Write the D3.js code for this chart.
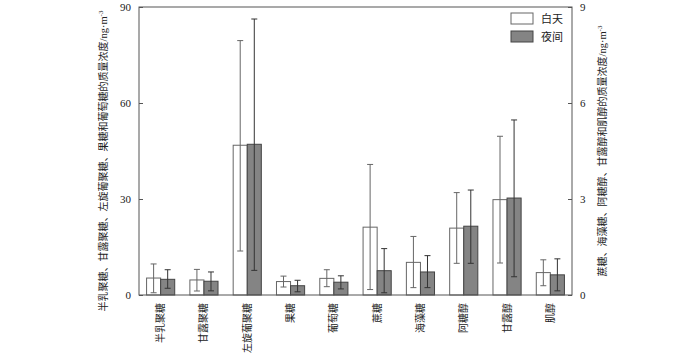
<html>
<head>
  <script src="https://d3js.org/d3.v7.min.js"></script>
  <style>
    body { margin: 0; background: #fff; }
    text { font-family: "Liberation Serif", "Noto Sans CJK SC", serif; fill: #222; }
    .cjk { font-family: "Noto Sans CJK SC", "Liberation Serif", serif; }
    .lat { font-family: "Liberation Serif", serif; }
    .axis path, .axis line { stroke: #555; }
  </style>
</head>
<body>
  <svg id="chart" width="700" height="354"></svg>
  <script>
    const categories = ["半乳聚糖", "甘露聚糖", "左旋葡聚糖", "果糖", "葡萄糖", "蔗糖", "海藻糖", "阿糖醇", "甘露醇", "肌醇"]
    // first 5 on the left axis (0-90), last 5 on the right axis (0-9)
    const axisSide = ["L", "L", "L", "L", "L", "R", "R", "R", "R", "R"]
    const dayMean = [5.3, 4.7, 46.8, 4.2, 5.2, 2.12, 1.02, 2.09, 2.98, 0.70]
    const dayLow = [0.7, 1.25, 13.75, 2.5, 2.6, 0.17, 0.23, 0.99, 1.0, 0.29]
    const dayHigh = [9.7, 8.0, 79.5, 5.9, 7.9, 4.08, 1.83, 3.2, 4.96, 1.10]
    const nightMean = [4.9, 4.3, 47.1, 2.9, 4.0, 0.76, 0.72, 2.15, 3.03, 0.63]
    const nightLow = [2.1, 1.3, 7.7, 1.0, 1.9, 0.07, 0.23, 0.99, 0.57, 0.13]
    const nightHigh = [7.9, 7.2, 86.25, 4.6, 6.0, 1.45, 1.23, 3.28, 5.47, 1.13]
    const leftTicks = [0, 30, 60, 90]
    const rightTicks = [0, 3, 6, 9]
    const seriesNames = ["白天", "夜间"]
    const leftLabel = "半乳聚糖、甘露聚糖、左旋葡聚糖、果糖和葡萄糖的质量浓度"
    const rightLabel = "蔗糖、海藻糖、阿糖醇、甘露醇和肌醇的质量浓度"

    const svg = d3.select("#chart")
    const margin = { top: 7, right: 128, bottom: 59, left: 139 }
    const chartWidth = 700 - margin.left - margin.right
    const chartHeight = 354 - margin.top - margin.bottom
    const g = svg.append("g").attr("transform", `translate(${margin.left},${margin.top})`)

    const xScale = d3.scaleBand().domain(categories).range([0, chartWidth])
      .paddingInner(0.35).paddingOuter(0.175)
    const subScale = d3.scaleBand().domain(seriesNames).range([0, xScale.bandwidth()])
    const leftScale = d3.scaleLinear().domain([0, 90]).range([chartHeight, 0])
    const rightScale = d3.scaleLinear().domain([0, 9]).range([chartHeight, 0])
    const scaleFor = i => axisSide[i] === "L" ? leftScale : rightScale

    const rows = []
    categories.forEach((c, i) => {
      rows.push({ cat: c, i: i, s: "白天", mean: dayMean[i], lo: dayLow[i], hi: dayHigh[i] })
      rows.push({ cat: c, i: i, s: "夜间", mean: nightMean[i], lo: nightLow[i], hi: nightHigh[i] })
    })
    const fillFor = s => s === "白天" ? "#fff" : "#848484"
    const strokeFor = s => s === "白天" ? "#666" : "#444"

    // bars
    g.selectAll("rect.bar").data(rows).join("rect")
      .attr("class", "bar")
      .attr("x", d => xScale(d.cat) + subScale(d.s))
      .attr("width", subScale.bandwidth())
      .attr("y", d => scaleFor(d.i)(d.mean))
      .attr("height", d => chartHeight - scaleFor(d.i)(d.mean))
      .attr("fill", d => fillFor(d.s))
      .attr("stroke", d => strokeFor(d.s))
      .attr("stroke-width", 1)

    // error bars
    const errs = g.selectAll("g.err").data(rows).join("g").attr("class", "err")
      .attr("stroke", d => d.s === "白天" ? "#666" : "#333")
      .attr("stroke-width", 1)
    const cx = d => xScale(d.cat) + subScale(d.s) + subScale.bandwidth() / 2
    errs.append("line")
      .attr("x1", cx).attr("x2", cx)
      .attr("y1", d => scaleFor(d.i)(d.lo)).attr("y2", d => scaleFor(d.i)(d.hi))
    errs.append("line")
      .attr("x1", d => cx(d) - 3).attr("x2", d => cx(d) + 3)
      .attr("y1", d => scaleFor(d.i)(d.hi)).attr("y2", d => scaleFor(d.i)(d.hi))
    errs.append("line")
      .attr("x1", d => cx(d) - 3).attr("x2", d => cx(d) + 3)
      .attr("y1", d => scaleFor(d.i)(d.lo)).attr("y2", d => scaleFor(d.i)(d.lo))

    // frame
    g.append("rect").attr("width", chartWidth).attr("height", chartHeight)
      .attr("fill", "none").attr("stroke", "#555").attr("stroke-width", 1)

    // axes with inward ticks
    g.append("g").attr("class", "axis")
      .call(d3.axisLeft(leftScale).tickValues(leftTicks).tickSizeInner(-4).tickSizeOuter(0).tickPadding(8))
      .call(a => a.select(".domain").remove())
      .selectAll("text").style("font-size", "11px")
    g.append("g").attr("class", "axis")
      .attr("transform", `translate(${chartWidth},0)`)
      .call(d3.axisRight(rightScale).tickValues(rightTicks).tickSizeInner(-4).tickSizeOuter(0).tickPadding(8))
      .call(a => a.select(".domain").remove())
      .selectAll("text").style("font-size", "11px")

    // category labels, rotated, reading upward, top-aligned under the axis
    g.selectAll("text.cat").data(categories).join("text")
      .attr("class", "cat cjk")
      .attr("text-anchor", "end")
      .attr("dy", "0.35em")
      .attr("transform", d => `translate(${xScale(d) + xScale.bandwidth() / 2},${chartHeight + 8}) rotate(-90)`)
      .style("font-size", "10px")
      .text(d => d)

    // axis titles
    const addTitle = (txt, x, y) => {
      const t = svg.append("text").attr("class", "cjk")
        .attr("transform", `translate(${x},${y}) rotate(-90)`)
        .attr("text-anchor", "middle")
        .style("font-size", "10px")
      t.append("tspan").text(txt)
      t.append("tspan").attr("class", "lat").style("font-size", "10.5px").text("/ng·m")
      t.append("tspan").attr("class", "lat").attr("dy", -4).style("font-size", "7px").text("-3")
    }
    addTitle(leftLabel, 107, 161)
    addTitle(rightLabel, 606, 151)

    // legend
    const legend = svg.append("g").attr("transform", "translate(511,13)")
    seriesNames.forEach((s, i) => {
      legend.append("rect").attr("x", 0).attr("y", i * 18).attr("width", 22).attr("height", 11)
        .attr("fill", fillFor(s)).attr("stroke", strokeFor(s))
      legend.append("text").attr("class", "cjk").attr("x", 30).attr("y", i * 18 + 9.5)
        .style("font-size", "11px").text(s)
    })
  </script>
</body>
</html>
